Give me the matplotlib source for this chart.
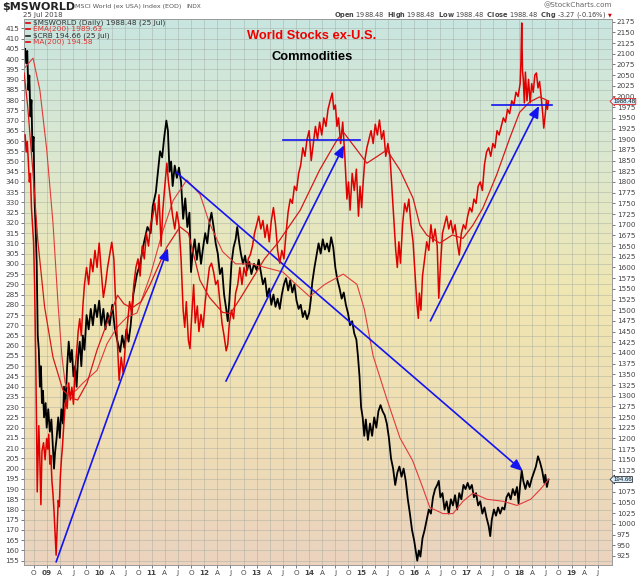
import numpy as np
import matplotlib.pyplot as plt
import matplotlib.transforms as mtransforms
from matplotlib.colors import LinearSegmentedColormap

plt.rcParams['font.family'] = 'DejaVu Sans'

# ---------- data (decimal year, value) ----------
# $CRB daily close (left axis)
crb = [(2008.59, 405), (2008.61, 398), (2008.63, 404), (2008.65, 385), (2008.67, 392), (2008.69, 372),
       (2008.71, 380), (2008.73, 355), (2008.75, 362), (2008.77, 330), (2008.79, 318), (2008.81, 300),
       (2008.83, 265), (2008.85, 258), (2008.87, 240), (2008.89, 250), (2008.91, 232), (2008.93, 238),
       (2008.95, 225), (2008.98, 232), (2009.00, 220), (2009.03, 229), (2009.06, 218), (2009.09, 224),
       (2009.12, 210), (2009.14, 200), (2009.16, 208), (2009.19, 215), (2009.22, 225), (2009.25, 215),
       (2009.28, 229), (2009.31, 222), (2009.33, 240), (2009.36, 232), (2009.39, 250), (2009.42, 262),
       (2009.45, 252), (2009.48, 258), (2009.51, 245), (2009.54, 250), (2009.57, 240), (2009.60, 255),
       (2009.63, 262), (2009.66, 250), (2009.69, 265), (2009.72, 258), (2009.76, 275), (2009.80, 268),
       (2009.84, 278), (2009.88, 270), (2009.92, 280), (2009.96, 274), (2010.00, 282), (2010.04, 270),
       (2010.08, 278), (2010.12, 268), (2010.16, 276), (2010.20, 270), (2010.25, 280), (2010.30, 268),
       (2010.35, 262), (2010.40, 257), (2010.44, 265), (2010.48, 259), (2010.52, 268), (2010.56, 262),
       (2010.60, 270), (2010.65, 285), (2010.72, 295), (2010.78, 300), (2010.85, 310), (2010.92, 318),
       (2010.98, 315), (2011.02, 328), (2011.08, 335), (2011.12, 345), (2011.16, 355), (2011.20, 352),
       (2011.24, 362), (2011.28, 370), (2011.31, 365), (2011.34, 345), (2011.37, 350), (2011.40, 338),
       (2011.44, 348), (2011.48, 342), (2011.52, 347), (2011.56, 340), (2011.60, 322), (2011.64, 332),
       (2011.68, 318), (2011.72, 325), (2011.75, 296), (2011.78, 305), (2011.82, 312), (2011.86, 302),
       (2011.90, 310), (2011.94, 300), (2011.98, 308), (2012.02, 315), (2012.06, 310), (2012.10, 320),
       (2012.14, 325), (2012.18, 318), (2012.22, 310), (2012.26, 305), (2012.30, 295), (2012.34, 298),
       (2012.38, 285), (2012.42, 278), (2012.45, 272), (2012.48, 282), (2012.52, 300), (2012.56, 308),
       (2012.60, 312), (2012.63, 318), (2012.67, 310), (2012.70, 305), (2012.74, 300), (2012.78, 304),
       (2012.82, 297), (2012.86, 301), (2012.90, 295), (2012.95, 300), (2013.00, 297), (2013.04, 302),
       (2013.08, 296), (2013.12, 290), (2013.16, 293), (2013.20, 284), (2013.24, 288), (2013.28, 280),
       (2013.32, 285), (2013.36, 279), (2013.40, 283), (2013.44, 278), (2013.48, 285), (2013.52, 290),
       (2013.56, 293), (2013.60, 287), (2013.64, 292), (2013.68, 286), (2013.72, 290), (2013.76, 282),
       (2013.80, 278), (2013.84, 280), (2013.88, 274), (2013.92, 277), (2013.96, 273), (2014.00, 276),
       (2014.03, 282), (2014.06, 291), (2014.10, 298), (2014.14, 304), (2014.18, 310), (2014.22, 305),
       (2014.26, 312), (2014.30, 307), (2014.34, 310), (2014.38, 306), (2014.42, 313), (2014.46, 308),
       (2014.50, 298), (2014.54, 292), (2014.58, 288), (2014.62, 283), (2014.66, 286), (2014.70, 280),
       (2014.74, 276), (2014.78, 270), (2014.82, 272), (2014.86, 266), (2014.90, 263), (2014.93, 255),
       (2014.96, 245), (2014.99, 230), (2015.02, 225), (2015.05, 216), (2015.08, 224), (2015.12, 214),
       (2015.16, 222), (2015.20, 216), (2015.24, 225), (2015.28, 220), (2015.32, 228), (2015.36, 231),
       (2015.40, 228), (2015.44, 226), (2015.48, 222), (2015.52, 215), (2015.56, 205), (2015.60, 200),
       (2015.64, 192), (2015.68, 198), (2015.72, 201), (2015.76, 196), (2015.80, 200), (2015.84, 194),
       (2015.88, 185), (2015.92, 178), (2015.96, 170), (2016.00, 165), (2016.03, 160), (2016.06, 155),
       (2016.09, 160), (2016.12, 157), (2016.16, 166), (2016.20, 170), (2016.24, 175), (2016.28, 180),
       (2016.32, 178), (2016.36, 186), (2016.40, 190), (2016.44, 192), (2016.47, 194), (2016.50, 186),
       (2016.54, 188), (2016.58, 180), (2016.62, 184), (2016.66, 178), (2016.70, 185), (2016.74, 182),
       (2016.78, 187), (2016.82, 180), (2016.86, 188), (2016.90, 185), (2016.94, 192), (2016.98, 190),
       (2017.02, 193), (2017.06, 190), (2017.10, 192), (2017.14, 186), (2017.18, 188), (2017.22, 182),
       (2017.26, 184), (2017.30, 178), (2017.34, 181), (2017.38, 176), (2017.42, 172), (2017.45, 167),
       (2017.48, 175), (2017.52, 180), (2017.56, 177), (2017.60, 181), (2017.64, 178), (2017.68, 181),
       (2017.72, 180), (2017.76, 186), (2017.80, 188), (2017.84, 185), (2017.88, 190), (2017.92, 187),
       (2017.96, 191), (2017.99, 183), (2018.02, 192), (2018.05, 199), (2018.08, 194), (2018.12, 190),
       (2018.16, 194), (2018.20, 191), (2018.24, 195), (2018.28, 198), (2018.32, 201), (2018.36, 206),
       (2018.40, 203), (2018.44, 199), (2018.48, 193), (2018.50, 197), (2018.53, 191), (2018.56, 194.66)]

# $CRB MA(200)
crb_ma = [(2008.59, 396), (2008.74, 400.5), (2008.87, 385), (2009.00, 356), (2009.12, 320), (2009.22, 279),
          (2009.29, 255), (2009.35, 242), (2009.44, 237), (2009.55, 238), (2009.70, 242), (2009.96, 248),
          (2010.15, 261), (2010.34, 269), (2010.53, 274), (2010.72, 276), (2010.97, 294), (2011.20, 315),
          (2011.41, 331), (2011.67, 341), (2011.92, 334), (2012.10, 320), (2012.35, 306), (2012.60, 300),
          (2012.90, 300), (2013.20, 298), (2013.50, 296), (2013.75, 290), (2014.01, 284), (2014.30, 290),
          (2014.65, 295), (2014.91, 290), (2015.05, 278), (2015.22, 255), (2015.48, 234), (2015.73, 215),
          (2015.97, 204), (2016.16, 191), (2016.30, 181), (2016.55, 178), (2016.74, 178), (2016.93, 184),
          (2017.12, 188), (2017.39, 185), (2017.70, 184), (2017.96, 182), (2018.22, 185), (2018.41, 190),
          (2018.56, 194.58)]

# $MSWORLD daily close (right axis)
msw = [(2008.59, 1910), (2008.61, 1870), (2008.63, 1895), (2008.65, 1850), (2008.67, 1800), (2008.69, 1820),
       (2008.71, 1740), (2008.73, 1700), (2008.75, 1660), (2008.77, 1560), (2008.79, 1400), (2008.81, 1200),
       (2008.82, 1075), (2008.85, 1230), (2008.87, 1150), (2008.89, 1045), (2008.91, 1170), (2008.94, 1190),
       (2008.97, 1150), (2009.00, 1200), (2009.02, 1175), (2009.04, 1210), (2009.06, 1140), (2009.08, 1160),
       (2009.10, 1100), (2009.12, 1070), (2009.14, 1030), (2009.16, 980), (2009.18, 927), (2009.20, 990),
       (2009.22, 1055), (2009.24, 1040), (2009.26, 1110), (2009.28, 1150), (2009.30, 1180), (2009.33, 1240),
       (2009.36, 1290), (2009.39, 1270), (2009.42, 1330), (2009.45, 1290), (2009.48, 1320), (2009.51, 1280),
       (2009.54, 1360), (2009.57, 1400), (2009.60, 1450), (2009.63, 1480), (2009.66, 1440), (2009.69, 1510),
       (2009.72, 1560), (2009.76, 1600), (2009.80, 1560), (2009.84, 1620), (2009.88, 1590), (2009.92, 1640),
       (2009.96, 1600), (2010.00, 1657), (2010.04, 1590), (2010.08, 1530), (2010.12, 1560), (2010.16, 1600),
       (2010.20, 1630), (2010.24, 1659), (2010.28, 1620), (2010.32, 1500), (2010.35, 1420), (2010.38, 1336),
       (2010.42, 1390), (2010.46, 1350), (2010.50, 1420), (2010.54, 1470), (2010.58, 1520), (2010.62, 1490),
       (2010.66, 1560), (2010.70, 1600), (2010.74, 1620), (2010.78, 1580), (2010.82, 1650), (2010.86, 1620),
       (2010.90, 1680), (2010.94, 1650), (2010.98, 1700), (2011.02, 1720), (2011.06, 1750), (2011.10, 1700),
       (2011.14, 1770), (2011.18, 1650), (2011.21, 1730), (2011.25, 1790), (2011.29, 1844), (2011.32, 1800),
       (2011.36, 1760), (2011.40, 1720), (2011.44, 1690), (2011.48, 1730), (2011.52, 1700), (2011.56, 1620),
       (2011.60, 1500), (2011.63, 1460), (2011.66, 1520), (2011.70, 1430), (2011.73, 1410), (2011.76, 1480),
       (2011.80, 1560), (2011.83, 1470), (2011.87, 1510), (2011.90, 1450), (2011.94, 1490), (2011.98, 1460),
       (2012.02, 1520), (2012.06, 1560), (2012.10, 1600), (2012.14, 1610), (2012.18, 1590), (2012.22, 1560),
       (2012.26, 1570), (2012.30, 1520), (2012.34, 1470), (2012.38, 1440), (2012.42, 1405), (2012.45, 1420),
       (2012.48, 1470), (2012.52, 1500), (2012.56, 1480), (2012.60, 1540), (2012.64, 1560), (2012.68, 1600),
       (2012.72, 1560), (2012.76, 1600), (2012.80, 1580), (2012.84, 1620), (2012.88, 1630), (2012.92, 1650),
       (2012.96, 1680), (2013.00, 1700), (2013.04, 1720), (2013.08, 1690), (2013.12, 1710), (2013.16, 1670),
       (2013.20, 1700), (2013.24, 1660), (2013.28, 1710), (2013.32, 1740), (2013.36, 1700), (2013.40, 1640),
       (2013.44, 1610), (2013.48, 1640), (2013.52, 1620), (2013.56, 1680), (2013.60, 1730), (2013.64, 1760),
       (2013.68, 1750), (2013.72, 1790), (2013.76, 1780), (2013.80, 1820), (2013.84, 1840), (2013.88, 1880),
       (2013.92, 1860), (2013.96, 1900), (2014.00, 1920), (2014.04, 1850), (2014.08, 1890), (2014.12, 1930),
       (2014.16, 1900), (2014.20, 1940), (2014.24, 1910), (2014.28, 1950), (2014.32, 1930), (2014.36, 1970),
       (2014.40, 1990), (2014.44, 2008), (2014.47, 1970), (2014.50, 1980), (2014.53, 1930), (2014.56, 1950),
       (2014.60, 1890), (2014.64, 1940), (2014.68, 1860), (2014.72, 1760), (2014.75, 1800), (2014.78, 1734),
       (2014.82, 1820), (2014.86, 1780), (2014.90, 1830), (2014.94, 1720), (2014.97, 1790), (2015.00, 1740),
       (2015.03, 1800), (2015.06, 1850), (2015.10, 1880), (2015.14, 1900), (2015.18, 1920), (2015.22, 1890),
       (2015.26, 1935), (2015.30, 1910), (2015.34, 1945), (2015.38, 1900), (2015.42, 1920), (2015.46, 1860),
       (2015.50, 1890), (2015.54, 1860), (2015.58, 1780), (2015.62, 1700), (2015.65, 1640), (2015.68, 1600),
       (2015.71, 1660), (2015.74, 1610), (2015.78, 1700), (2015.82, 1750), (2015.86, 1730), (2015.90, 1760),
       (2015.94, 1700), (2015.98, 1660), (2016.02, 1580), (2016.05, 1520), (2016.08, 1481), (2016.10, 1540),
       (2016.13, 1500), (2016.16, 1580), (2016.20, 1620), (2016.24, 1660), (2016.28, 1640), (2016.32, 1700),
       (2016.36, 1660), (2016.40, 1690), (2016.44, 1650), (2016.47, 1528), (2016.50, 1600), (2016.54, 1680),
       (2016.58, 1700), (2016.62, 1720), (2016.66, 1690), (2016.70, 1710), (2016.74, 1680), (2016.78, 1700),
       (2016.82, 1660), (2016.86, 1629), (2016.90, 1680), (2016.94, 1700), (2016.98, 1690), (2017.02, 1720),
       (2017.06, 1740), (2017.10, 1730), (2017.14, 1760), (2017.18, 1750), (2017.22, 1790), (2017.26, 1800),
       (2017.30, 1780), (2017.34, 1840), (2017.38, 1870), (2017.42, 1880), (2017.46, 1860), (2017.50, 1890),
       (2017.54, 1880), (2017.58, 1920), (2017.62, 1910), (2017.66, 1930), (2017.70, 1950), (2017.74, 1940),
       (2017.78, 1970), (2017.82, 1960), (2017.86, 1990), (2017.90, 1980), (2017.94, 2010), (2017.98, 2000),
       (2018.02, 2030), (2018.035, 2080), (2018.05, 2172), (2018.065, 2060), (2018.08, 2040), (2018.10, 1985),
       (2018.12, 2057), (2018.15, 1990), (2018.18, 2040), (2018.21, 1985), (2018.24, 2030), (2018.27, 2010),
       (2018.30, 2050), (2018.33, 2055), (2018.36, 2020), (2018.39, 2035), (2018.42, 2000), (2018.45, 1960),
       (2018.47, 1926), (2018.50, 1960), (2018.52, 1990), (2018.54, 1970), (2018.56, 1988.48)]

# $MSWORLD EMA(200)
msw_ema = [(2008.57, 2055), (2008.64, 1975), (2008.74, 1820), (2008.83, 1664), (2008.96, 1508), (2009.12, 1390),
           (2009.31, 1313), (2009.48, 1294), (2009.59, 1290), (2009.77, 1330), (2009.96, 1407), (2010.15, 1470),
           (2010.35, 1535), (2010.47, 1515), (2010.62, 1505), (2010.80, 1520), (2010.97, 1560), (2011.29, 1648),
           (2011.54, 1695), (2011.70, 1680), (2011.92, 1570), (2012.10, 1530), (2012.35, 1495), (2012.50, 1492),
           (2012.70, 1530), (2012.90, 1570), (2013.15, 1620), (2013.40, 1657), (2013.83, 1734), (2014.20, 1828),
           (2014.53, 1898), (2014.65, 1917), (2014.91, 1875), (2015.10, 1844), (2015.30, 1860), (2015.48, 1875),
           (2015.73, 1828), (2015.98, 1762), (2016.11, 1699), (2016.24, 1676), (2016.49, 1657), (2016.73, 1676),
           (2016.93, 1668), (2017.12, 1699), (2017.31, 1739), (2017.57, 1816), (2017.82, 1902), (2018.01, 1963),
           (2018.20, 1987), (2018.39, 1999), (2018.56, 1989.63)]

# hand-drawn annotations: (start, end) in MSWORLD units, one in CRB units
msw_arrows = [((2009.18, 911), (2011.31, 1645)),
              ((2012.415, 1334), (2014.666, 1886)),
              ((2016.31, 1475), (2018.38, 1978))]
msw_hlines = [(2013.50, 2014.97, 1898), (2017.48, 2018.62, 1980)]
crb_arrow = ((2011.466, 344.8), (2018.07, 198.8))

RED = '#e00000'
BLUE = '#1414f0'

fig = plt.figure(figsize=(6.4, 5.76), dpi=100)
ax = fig.add_axes([24 / 640, 11 / 576, 588 / 640, 546 / 576])
ax2 = ax.twinx()

# gradient background
cmap = LinearSegmentedColormap.from_list(
    'bg', [(0.0, '#c8e5e0'), (0.25, '#dbe8cf'), (0.5, '#f0e6b2'), (0.75, '#efdeb4'), (1.0, '#ebd3bf')])
ax.imshow(np.linspace(0, 1, 256).reshape(-1, 1), cmap=cmap, aspect='auto',
          extent=[0, 1, 0, 1], transform=ax.transAxes, zorder=0, origin='upper')

ax.set_xlim(2008.568, 2019.77)
ax.set_ylim(152.9, 419.6)
ax2.set_ylim(903.9, 2181.3)

# ticks and grid
qt = np.arange(2008.75, 2019.6, 0.25)
labs = []
for q in qt:
    k = int(round((q % 1) * 4)) % 4
    labs.append(['%02d' % (int(round(q)) % 100), 'A', 'J', 'O'][k])
ax.set_xticks(qt)
ax.set_xticklabels(labs)
for lab, txt in zip(ax.get_xticklabels(), labs):
    if txt.isdigit():
        lab.set_fontweight('bold')
ax.set_yticks(np.arange(155, 416, 5))
rt = np.arange(925, 2176, 25)
ax2.set_yticks(rt)
# the 1100 label sits under the $CRB last-value tag, as in the original
ax2.set_yticklabels(['' if v == 1100 else str(v) for v in rt])
ax.tick_params(axis='both', labelsize=5.2, colors='#444444', length=2, width=0.5, pad=1.5)
ax2.tick_params(axis='y', labelsize=5.2, colors='#444444', length=2, width=0.5, pad=1.5)
ax.grid(True, color='#9aa39a', lw=0.5, alpha=0.55, zorder=1)
ax.set_axisbelow(False)
for sp in list(ax.spines.values()) + list(ax2.spines.values()):
    sp.set_color('#999999')
    sp.set_linewidth(0.6)

# series
ct, cv = zip(*crb)
ax.plot(ct, cv, color='black', lw=1.3, zorder=3)
mt, mv = zip(*crb_ma)
ax.plot(mt, mv, color='#e23a3a', lw=0.8, zorder=3)
st, sv = zip(*msw)
ax2.plot(st, sv, color=RED, lw=1.1, zorder=3)
et, ev = zip(*msw_ema)
ax2.plot(et, ev, color='#d81818', lw=0.9, zorder=3)

# annotations
for (x0, y0), (x1, y1) in msw_arrows:
    ax2.annotate('', xy=(x1, y1), xytext=(x0, y0),
                 arrowprops=dict(arrowstyle='-|>,head_length=0.7,head_width=0.3',
                                 color=BLUE, lw=1.2, shrinkA=0, shrinkB=0), zorder=5)
for x0, x1, y in msw_hlines:
    ax2.plot([x0, x1], [y, y], color=BLUE, lw=1.2, zorder=5)
(x0, y0), (x1, y1) = crb_arrow
ax.annotate('', xy=(x1, y1), xytext=(x0, y0),
            arrowprops=dict(arrowstyle='-|>,head_length=0.7,head_width=0.3',
                            color=BLUE, lw=1.2, shrinkA=0, shrinkB=0), zorder=5)

# chart titles
ax2.text(0.49, 1 - 17 / 546, 'World Stocks ex-U.S.', transform=ax.transAxes, ha='center', va='center',
         color='#ee0000', fontsize=9.3, fontweight='bold', family='Liberation Sans', zorder=6)
ax2.text(0.49, 1 - 38.5 / 546, 'Commodities', transform=ax.transAxes, ha='center', va='center',
         color='black', fontsize=9.3, fontweight='bold', family='Liberation Sans', zorder=6)

# legend block
leg = [('\\$MSWORLD (Daily) 1988.48 (25 Jul)', RED, '#333333'),
       ('EMA(200) 1989.63', RED, '#dd3333'),
       ('\\$CRB 194.66 (25 Jul)', '#222222', '#333333'),
       ('MA(200) 194.58', RED, '#dd3333')]
for i, (txt, mc, tc) in enumerate(leg):
    yy = 1 - (3.7 + 6.4 * i) / 546
    ax2.plot([0.004, 0.011], [yy, yy], transform=ax.transAxes, color=mc, lw=1.2, zorder=6)
    ax2.text(0.015, yy, txt, transform=ax.transAxes, va='center', fontsize=5.3, color=tc, zorder=6)

# last value tags, drawn on the top axes so they sit over the tick labels
trans2 = mtransforms.blended_transform_factory(ax2.transAxes, ax2.transData)
ax2.text(1.002, 1988.48, '1988.48', transform=trans2, va='center', ha='left', fontsize=4.4,
         family='Liberation Sans', color='#111111',
         bbox=dict(boxstyle='larrow,pad=0.08', fc='#d8f0ff', ec='#dd2222', lw=0.6),
         zorder=7, clip_on=False)
trans1 = mtransforms.blended_transform_factory(ax2.transAxes, ax.transData)
ax2.text(1.002, 194.66, '194.66', transform=trans1, va='center', ha='left', fontsize=4.4,
         family='Liberation Sans', color='#111111',
         bbox=dict(boxstyle='larrow,pad=0.08', fc='#d8f0ff', ec='#333333', lw=0.6),
         zorder=7, clip_on=False)

# header
fig.text(2 / 640, 1 - 7 / 576, '\\$MSWORLD', fontsize=8, fontweight='bold', va='center', color='#222222')
fig.text(75 / 640, 1 - 6.5 / 576, 'MSCI World (ex USA) Index (EOD)', fontsize=4.6, va='center', color='#555555')
fig.text(186 / 640, 1 - 6.5 / 576, 'INDX', fontsize=4.2, va='center', color='#555555')
fig.text(23 / 640, 1 - 15 / 576, '25 Jul 2018', fontsize=5, va='center', color='#444444')
fig.text(612 / 640, 1 - 5 / 576, '@StockCharts.com', fontsize=5.2, va='center', ha='right', color='#666666')
fig.text(606 / 640, 1 - 14.5 / 576,
         r'$\bf{Open}$ 1988.48  $\bf{High}$ 1988.48  $\bf{Low}$ 1988.48  $\bf{Close}$ 1988.48  $\bf{Chg}$ -3.27 (-0.16%)',
         fontsize=4.8, va='center', ha='right', color='#444444')
fig.text(610 / 640, 1 - 14.5 / 576, '\u25bc', fontsize=3.5, va='center', ha='center', color='#cc0000')

fig.savefig('out.png', dpi=100)
